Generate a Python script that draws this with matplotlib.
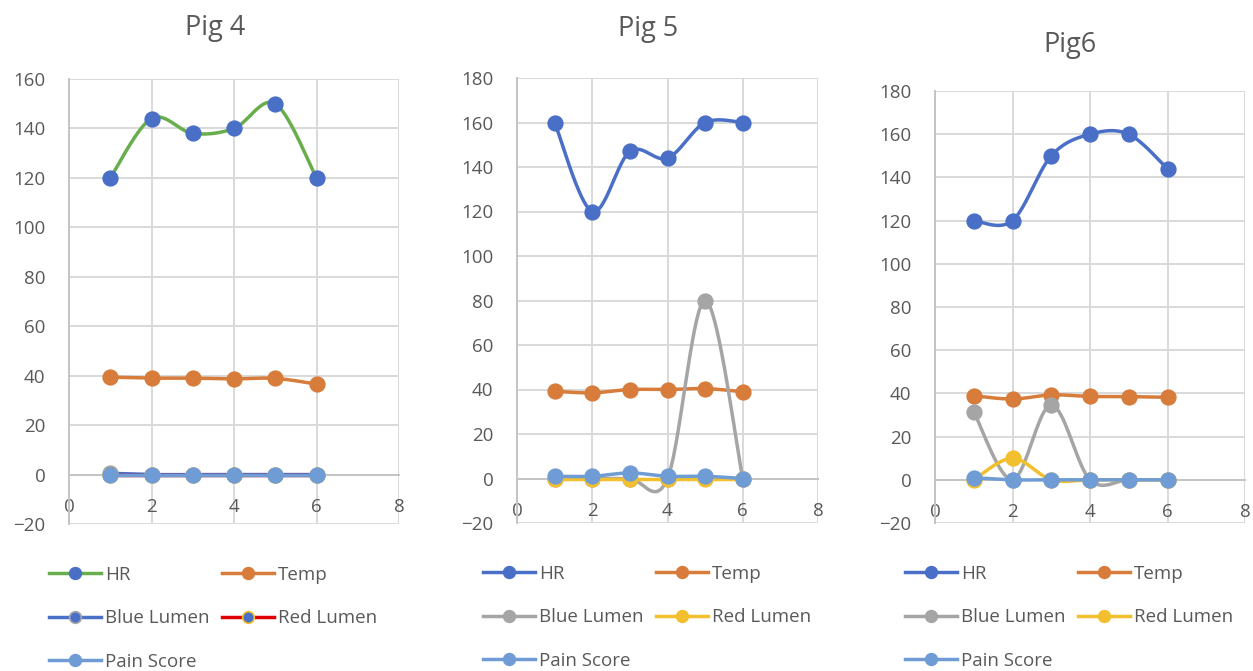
import numpy as np
import matplotlib
matplotlib.use("Agg")
import matplotlib.pyplot as plt
from matplotlib.lines import Line2D

plt.rcParams['font.family'] = ['Open Sans', 'DejaVu Sans']

# ---- data ----
x_vals = [1, 2, 3, 4, 5, 6]
series_names = ["HR", "Temp", "Blue Lumen", "Red Lumen", "Pain Score"]

pig4_hr = [120, 144, 138, 140, 150, 120]
pig4_temp = [39.4, 39.0, 39.0, 38.7, 38.9, 36.6]
pig4_blue = [0.5, 0, 0, 0, 0, 0]
pig4_red = [0, 0, 0, 0, 0, 0]
pig4_pain = [0, 0, 0, 0, 0, 0]

pig5_hr = [160, 120, 147, 144, 160, 160]
pig5_temp = [39.2, 38.5, 40.0, 40.0, 40.4, 39.0]
pig5_blue = [0, 0, 0, 0, 80, 0]
pig5_red = [0, 0, 0, 0, 0, 0]
pig5_pain = [1, 1, 2.5, 1, 1, 0]

pig6_hr = [120, 120, 150, 160, 160, 144]
pig6_temp = [38.9, 37.4, 39.3, 38.6, 38.5, 38.2]
pig6_blue = [31.5, 0, 34.6, 0, 0, 0]
pig6_red = [0, 10, 0, 0, 0, 0]
pig6_pain = [1, 0, 0, 0, 0, 0]

titles = ["Pig 4", "Pig 5", "Pig6"]

# ---- styling ----
TEXT = "#595959"
GRID = "#D9D9D9"
AXIS = "#C4C4C4"
BLUE = "#4A6FC6"
ORANGE = "#D87C3B"
GRAY = "#A5A5A5"
YELLOW = "#F2BF2E"
LIGHTBLUE = "#6F9CD5"
GREEN = "#69AE4D"
RED = "#E00000"

# (line colour, marker face, marker edge) per series
styles_pig4 = [(GREEN, BLUE, BLUE), (ORANGE, ORANGE, ORANGE),
               (BLUE, BLUE, GRAY), (RED, BLUE, YELLOW),
               (LIGHTBLUE, LIGHTBLUE, LIGHTBLUE)]
styles_std = [(BLUE, BLUE, BLUE), (ORANGE, ORANGE, ORANGE),
              (GRAY, GRAY, GRAY), (YELLOW, YELLOW, YELLOW),
              (LIGHTBLUE, LIGHTBLUE, LIGHTBLUE)]

W, H = 1253, 671
fig = plt.figure(figsize=(W / 100, H / 100), dpi=100)


def px_axes(left, right, top, bottom):
    return fig.add_axes([left / W, 1 - bottom / H, (right - left) / W, (bottom - top) / H])


def smooth(xs, ys, n=40):
    """Cubic Bezier smoothing through the points (Catmull-Rom style tangents)."""
    p = np.column_stack([xs, ys]).astype(float)
    ext = np.vstack([p[0], p, p[-1]])
    out = []
    t = np.linspace(0, 1, n)[:, None]
    for i in range(len(p) - 1):
        p0, p1 = ext[i + 1], ext[i + 2]
        c1 = p0 + (ext[i + 2] - ext[i]) / 6.0
        c2 = p1 - (ext[i + 3] - ext[i + 1]) / 6.0
        seg = ((1 - t) ** 3) * p0 + 3 * ((1 - t) ** 2) * t * c1 + 3 * (1 - t) * t ** 2 * c2 + t ** 3 * p1
        out.append(seg if i == 0 else seg[1:])
    out = np.vstack(out)
    return out[:, 0], out[:, 1]


panels = [
    dict(box=(69, 399, 79, 524), ymax=160, data=[pig4_hr, pig4_temp, pig4_blue, pig4_red, pig4_pain],
         styles=styles_pig4, title_xy=(215, 35), leg=(49, 566)),
    dict(box=(517, 818, 78, 523), ymax=180, data=[pig5_hr, pig5_temp, pig5_blue, pig5_red, pig5_pain],
         styles=styles_std, title_xy=(648, 36), leg=(483, 565)),
    dict(box=(935, 1245, 91, 523), ymax=180, data=[pig6_hr, pig6_temp, pig6_blue, pig6_red, pig6_pain],
         styles=styles_std, title_xy=(1070, 52), leg=(905, 565)),
]

LW = 2.5
MS = 10.5
# legend fills column by column: left column HR / Blue Lumen / Pain Score, right column Temp / Red Lumen
legend_order = [0, 2, 4, 1, 3]

for k, pnl in enumerate(panels):
    ax = px_axes(*pnl["box"])
    ax.set_xlim(0, 8)
    ax.set_ylim(-20, pnl["ymax"])
    ax.set_xticks(range(0, 9, 2))
    ax.set_yticks(range(-20, pnl["ymax"] + 1, 20))
    ax.grid(True, color=GRID, linewidth=1.4)
    ax.set_axisbelow(True)
    for s in ["top", "right"]:
        ax.spines[s].set_visible(False)
    ax.spines["bottom"].set_position(("data", 0))
    ax.spines["bottom"].set_color(AXIS)
    ax.spines["left"].set_color(AXIS)
    ax.spines["bottom"].set_linewidth(1.4)
    ax.spines["left"].set_linewidth(1.4)
    ax.tick_params(axis="both", length=0, labelsize=13.5, labelcolor=TEXT)
    ax.tick_params(axis="y", pad=17)
    ax.tick_params(axis="x", pad=17)

    handles = []
    for i, (vals, (lc, mf, me)) in enumerate(zip(pnl["data"], pnl["styles"])):
        sx, sy = smooth(x_vals, vals)
        ax.plot(sx, sy, color=lc, linewidth=LW, solid_capstyle="round", zorder=3 + 2 * i, clip_on=False)
        ax.plot(x_vals, vals, linestyle="none", marker="o", markersize=MS, markerfacecolor=mf,
                markeredgecolor=me, markeredgewidth=1.2, zorder=4 + 2 * i, clip_on=False)
        handles.append(Line2D([], [], color=lc, linewidth=LW, marker="o", markersize=MS * 0.8,
                              markerfacecolor=mf, markeredgecolor=me, markeredgewidth=1.2,
                              label=series_names[i]))

    fig.text(pnl["title_xy"][0] / W, 1 - pnl["title_xy"][1] / H, titles[k], fontsize=19.5,
             color=TEXT, ha="center", va="baseline")

    lx, ly = pnl["leg"]
    leg = fig.legend(handles=[handles[j] for j in legend_order], loc="upper left",
                     bbox_to_anchor=(lx / W, 1 - ly / H),
                     bbox_transform=fig.transFigure, ncol=2, frameon=False, fontsize=13.5,
                     handlelength=2.75, handletextpad=0.25, columnspacing=0.65,
                     labelspacing=1.35, borderpad=0, borderaxespad=0)
    for t in leg.get_texts():
        t.set_color(TEXT)

fig.savefig("out.png", dpi=100)
